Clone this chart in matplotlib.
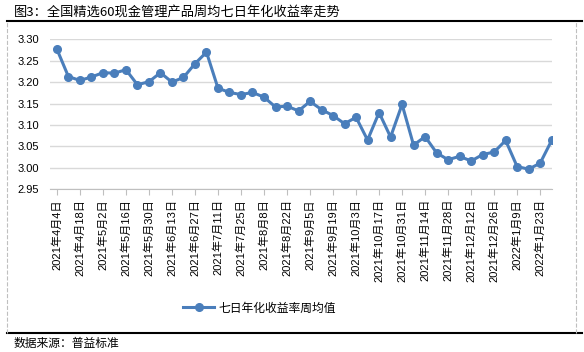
import numpy as np
import pandas as pd
import matplotlib
matplotlib.use("Agg")
import matplotlib.pyplot as plt
from matplotlib.lines import Line2D

plt.rcParams['font.family'] = ['Liberation Sans', 'Noto Sans CJK SC', 'DejaVu Sans']

# weekly dates, 2021-04-04 .. 2022-01-30
dates = pd.date_range("2021-04-04", periods=44, freq="7D")
values = [3.277, 3.213, 3.204, 3.212, 3.222, 3.221, 3.229, 3.194, 3.201, 3.222,
          3.200, 3.211, 3.243, 3.270, 3.186, 3.176, 3.171, 3.176, 3.165, 3.142,
          3.144, 3.133, 3.155, 3.136, 3.122, 3.103, 3.118, 3.065, 3.129, 3.072,
          3.148, 3.053, 3.073, 3.035, 3.019, 3.027, 3.016, 3.031, 3.037, 3.064,
          3.003, 2.997, 3.011, 3.064]
labels = [f"{d.year}年{d.month}月{d.day}日" for d in dates]
yticks = [2.95, 3.00, 3.05, 3.10, 3.15, 3.20, 3.25, 3.30]

title = "图3：全国精选60现金管理产品周均七日年化收益率走势"
series_name = "七日年化收益率周均值"
source = "数据来源：普益标准"

blue = "#4A7EBB"
grid_c = "#D9D9D9"

fig = plt.figure(figsize=(5.84, 3.52), dpi=100)
ax = fig.add_axes([0.0856, 0.4622, 0.860, 0.4262])

x = np.arange(len(values))
ax.plot(x, values, color=blue, lw=2.2, marker='o', ms=5.5, label=series_name)

ax.set_ylim(2.95, 3.30)
ax.set_yticks(yticks)
ax.set_yticklabels([f"{v:.2f}" for v in yticks], fontsize=8)
ax.yaxis.grid(True, color=grid_c, lw=1)
ax.set_axisbelow(True)
ax.tick_params(axis='y', length=0, pad=8)

ax.set_xlim(-0.6, 43.05)
ax.set_xticks(x[::2])
ax.set_xticklabels(labels[::2], rotation=90, fontsize=8)
ax.tick_params(axis='x', length=4, color="#BFBFBF", pad=3)

for s in ['top', 'right', 'left']:
    ax.spines[s].set_visible(False)
ax.spines['bottom'].set_color("#BFBFBF")

# legend
handle = Line2D([], [], color=blue, lw=2.2, marker='o', ms=5.5)
fig.legend([handle], [series_name], loc='center', bbox_to_anchor=(0.445, 0.125),
           frameon=False, fontsize=8.5, handlelength=2.6, handletextpad=0.4,
           prop={'family': ['Noto Sans CJK SC'], 'size': 8.5})

# title, frame lines, source
fig.text(0.024, 0.965, title, fontsize=9.5, family=['Noto Sans CJK SC'], va='center')
fig.add_artist(Line2D([0.012, 0.997], [0.94, 0.94], color='black', lw=1.5))
fig.add_artist(Line2D([0.012, 0.997], [0.054, 0.054], color='black', lw=1.5))
fig.add_artist(Line2D([0.012, 0.012], [0.054, 0.94], color='#BFBFBF', lw=0.8, ls='--'))
fig.add_artist(Line2D([0.986, 0.986], [0.054, 0.94], color='#BFBFBF', lw=0.8, ls='--'))
fig.text(0.024, 0.025, source, fontsize=8.5, family=['Noto Sans CJK SC'], va='center')

fig.savefig("out.png", dpi=100)
